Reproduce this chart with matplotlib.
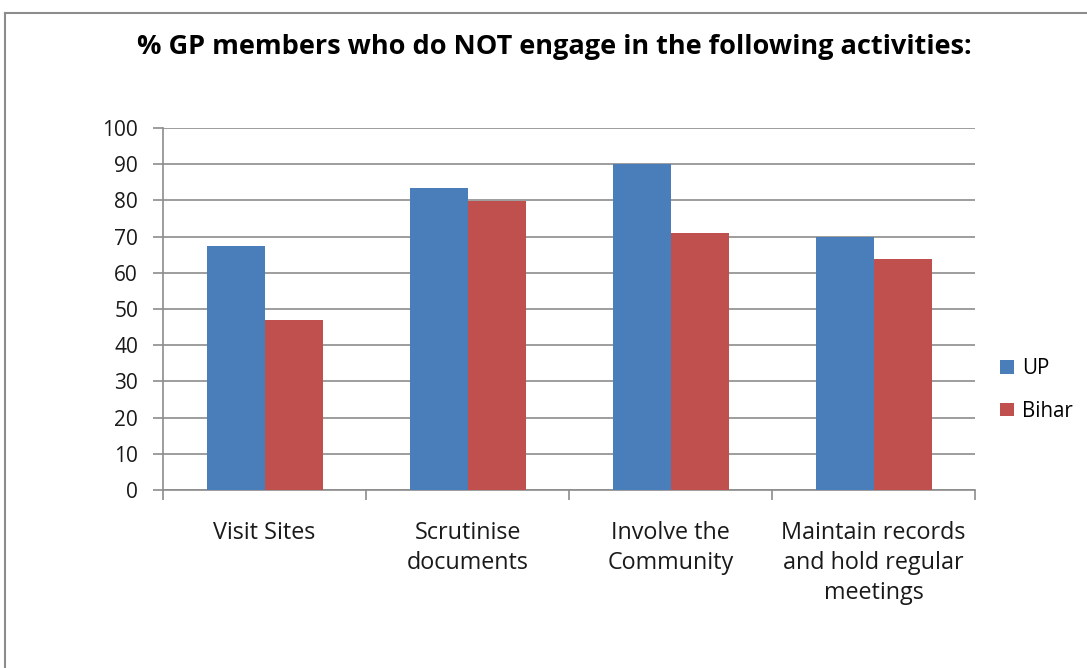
import matplotlib.pyplot as plt
import numpy as np
from matplotlib.lines import Line2D

categories = ["Visit Sites", "Scrutinise\ndocuments", "Involve the\nCommunity",
              "Maintain records\nand hold regular\nmeetings"]
up_values = [67.3, 83.4, 90.0, 69.8]
bihar_values = [47.0, 79.8, 71.1, 63.8]
series_names = ["UP", "Bihar"]
y_ticks = list(range(0, 101, 10))

plt.rcParams['font.family'] = ['Open Sans', 'DejaVu Sans']

fig = plt.figure(figsize=(10.87, 6.68), dpi=100)
ax = fig.add_axes([163/1087, 1-490/668, (975-163)/1087, (490-128)/668])

x = np.arange(len(categories))
w = 1/3.5
blue = '#4A7EBB'
red = '#C0504D'
b1 = ax.bar(x - w/2, up_values, width=w, color=blue, label=series_names[0], zorder=3)
b2 = ax.bar(x + w/2, bihar_values, width=w, color=red, label=series_names[1], zorder=3)

ax.set_xlim(-0.5, len(categories) - 0.5)
ax.set_ylim(0, 100)
ax.set_yticks(y_ticks)
ax.set_yticklabels([str(v) for v in y_ticks], fontsize=15, color='#1a1a1a')
ax.yaxis.grid(True, color='#8c8c8c', linewidth=1.2, zorder=0)
ax.set_axisbelow(True)

ax.set_xticks(np.arange(-0.5, len(categories), 1.0))
ax.set_xticklabels([])
ax.set_xticks(x, minor=True)
ax.set_xticklabels(categories, minor=True, fontsize=16.8, color='#1a1a1a', linespacing=1.34)
ax.tick_params(axis='x', which='minor', length=0, pad=22.5)
ax.tick_params(axis='x', which='major', length=7, color='#8c8c8c', direction='out', width=1.2)
ax.tick_params(axis='y', length=7, color='#8c8c8c', direction='out', width=1.2, pad=11)

for s in ['top', 'right']:
    ax.spines[s].set_visible(False)
for s in ['left', 'bottom']:
    ax.spines[s].set_color('#8c8c8c')
    ax.spines[s].set_linewidth(1.2)

fig.text(554/1087, 1-47/668, "% GP members who do NOT engage in the following activities:",
         ha='center', va='center', fontsize=19.5, fontweight='bold', color='#000000')

leg = fig.legend(handles=[b1, b2], loc='upper left', bbox_to_anchor=(992/1087, 1-350/668),
                 frameon=False, fontsize=14.8, handlelength=0.65, handleheight=0.65,
                 labelspacing=1.05, handletextpad=0.4, borderaxespad=0)

# outer chart frame
fig.add_artist(Line2D([5/1087, 1.0], [1-13/668, 1-13/668], color='#8c8c8c', lw=1.5,
                      transform=fig.transFigure))
fig.add_artist(Line2D([5/1087, 5/1087], [0, 1-13/668], color='#8c8c8c', lw=1.5,
                      transform=fig.transFigure))

fig.savefig('out.png', dpi=100)
